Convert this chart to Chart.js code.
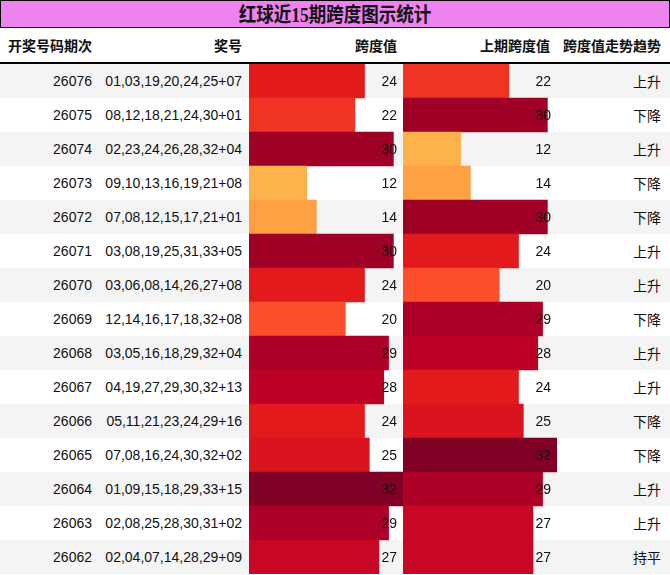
<!DOCTYPE html>
<html>
<head>
<meta charset="utf-8">
<script src="https://cdn.jsdelivr.net/npm/chart.js@4/dist/chart.umd.min.js"></script>
<style>
  body { margin: 0; background: #fff; }
  #wrap { position: relative; width: 670px; height: 575px; overflow: hidden;
          font-family: 'Liberation Sans', 'Noto Sans CJK SC', sans-serif; color: #111; }
  #title { box-sizing: border-box; height: 28px; background: #ee82ee; border: 1px solid #000;
           text-align: center; font: bold 20px 'Noto Sans CJK SC', sans-serif; line-height: 25px; }
  #title span { display: inline-block; transform: scaleX(0.875); }
  #title b { font-family: 'Liberation Serif', serif; }
  table { border-collapse: collapse; table-layout: fixed; width: 670px; }
  th, td { padding: 0 8px 0 0; text-align: right; white-space: nowrap; overflow: hidden; }
  th { height: 34px; font: bold 14px 'Noto Sans CJK SC', sans-serif; border-bottom: 2px solid #000; }
  td { height: 34px; font-size: 14px; }
  tbody tr:nth-child(odd) td { background: #f4f4f4; }
  canvas { position: absolute; top: 64px; }
</style>
</head>
<body>
<div id="wrap">
  <div id="title"><span>红球近<b>15</b>期跨度图示统计</span></div>
  <table>
    <colgroup>
      <col style="width:100px"><col style="width:149px"><col style="width:154px">
      <col style="width:154px"><col style="width:113px">
    </colgroup>
    <thead>
      <tr><th>开奖号码期次</th><th style="padding-right:7px">奖号</th><th style="padding-right:6px">跨度值</th>
          <th style="padding-right:7px">上期跨度值</th><th style="padding-right:9px">跨度值走势趋势</th></tr>
    </thead>
    <tbody id="rows"></tbody>
  </table>
  <canvas id="spanChart" width="154" height="510" style="left:249px"></canvas>
  <canvas id="prevChart" width="154" height="510" style="left:403px"></canvas>
</div>
<script>
const periods = ['26076','26075','26074','26073','26072','26071','26070','26069',
                 '26068','26067','26066','26065','26064','26063','26062'];
const numbers = ['01,03,19,20,24,25+07','08,12,18,21,24,30+01','02,23,24,26,28,32+04',
                 '09,10,13,16,19,21+08','07,08,12,15,17,21+01','03,08,19,25,31,33+05',
                 '03,06,08,14,26,27+08','12,14,16,17,18,32+08','03,05,16,18,29,32+04',
                 '04,19,27,29,30,32+13','05,11,21,23,24,29+16','07,08,16,24,30,32+02',
                 '01,09,15,18,29,33+15','02,08,25,28,30,31+02','02,04,07,14,28,29+09'];
const spans     = [24, 22, 30, 12, 14, 30, 24, 20, 29, 28, 24, 25, 32, 29, 27];
const prevSpans = [22, 30, 12, 14, 30, 24, 20, 29, 28, 24, 25, 32, 29, 27, 27];
const trends    = ['上升','下降','上升','下降','下降','上升','上升','下降',
                   '上升','上升','下降','下降','上升','上升','持平'];
const maxSpan = 32;

// YlOrRd colour ramp, value / maxSpan
const ramp = ['#ffffcc','#ffeda0','#fed976','#feb24c','#fd8d3c','#fc4e2a','#e31a1c','#bd0026','#800026'];
function hex(c) { return [1, 3, 5].map(i => parseInt(c.substr(i, 2), 16)); }
function rampColor(v) {
    const t = Math.min(1, Math.max(0, v / maxSpan)) * (ramp.length - 1);
    const i = Math.min(ramp.length - 2, Math.floor(t)), f = t - i;
    const a = hex(ramp[i]), b = hex(ramp[i + 1]);
    return 'rgb(' + a.map((x, k) => Math.round(x + (b[k] - x) * f)).join(',') + ')';
}

const tbody = document.getElementById('rows');
periods.forEach((p, i) => {
    const tr = document.createElement('tr');
    tr.innerHTML = `<td>${p}</td><td style="padding-right:7px">${numbers[i]}</td><td></td><td></td>` +
                   `<td style="padding-right:9px;font-family:'Noto Sans CJK SC',sans-serif">${trends[i]}</td>`;
    tbody.appendChild(tr);
});

// value text drawn on top of the bars, right side of the cell
const valueLabels = {
    id: 'valueLabels',
    afterDatasetsDraw(chart) {
        const ctx = chart.ctx;
        const data = chart.data.datasets[0].data;
        ctx.save();
        ctx.font = "14px 'Liberation Sans', sans-serif";
        ctx.fillStyle = '#111';
        ctx.textAlign = 'right';
        ctx.textBaseline = 'middle';
        chart.getDatasetMeta(0).data.forEach((bar, i) => {
            ctx.fillText(String(data[i]), chart.chartArea.right - 6, bar.y + 1);
        });
        ctx.restore();
    }
};

function makeChart(id, values) {
    return new Chart(document.getElementById(id), {
        type: 'bar',
        data: {
            labels: periods,
            datasets: [{
                data: values,
                backgroundColor: values.map(rampColor),
                barPercentage: 1,
                categoryPercentage: 1,
                borderWidth: 0
            }]
        },
        options: {
            indexAxis: 'y',
            responsive: false,
            animation: false,
            devicePixelRatio: 1,
            layout: { padding: 0 },
            plugins: { legend: { display: false }, tooltip: { enabled: false } },
            scales: {
                x: { display: false, min: 0, max: maxSpan },
                y: { display: false }
            }
        },
        plugins: [valueLabels]
    });
}

makeChart('spanChart', spans);
makeChart('prevChart', prevSpans);
</script>
</body>
</html>
